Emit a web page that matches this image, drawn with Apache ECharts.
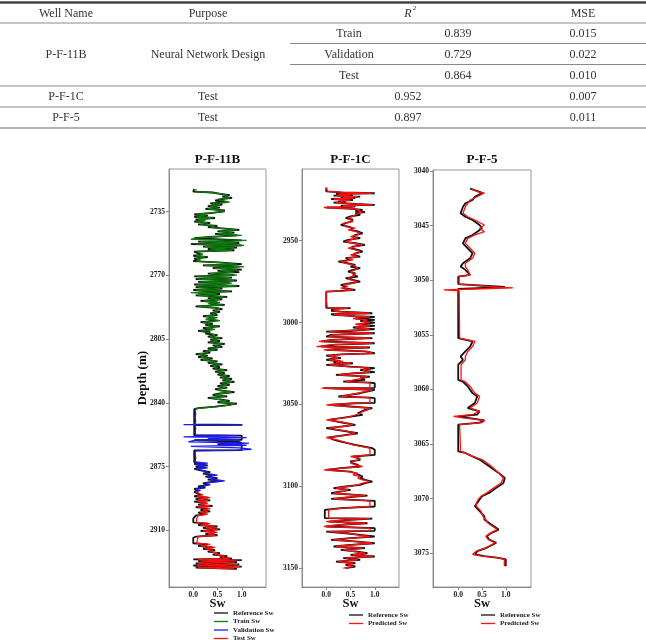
<!DOCTYPE html>
<html><head><meta charset="utf-8">
<script src="https://cdn.jsdelivr.net/npm/echarts@6/dist/echarts.min.js"></script>
<style>html,body{margin:0;padding:0;background:#fff}#c{width:646px;height:640px}</style>
</head><body><div id="c"></div>
<script>
// ---------- table data ----------
const tableHeader = ['Well Name', 'Purpose', 'R', 'MSE'];
const tableWells = ['P-F-11B', 'P-F-1C', 'P-F-5'];
const tablePurpose = ['Neural Network Design', 'Test', 'Test'];
const subsets11B = ['Train', 'Validation', 'Test'];
const r2_11B = ['0.839', '0.729', '0.864'];
const mse_11B = ['0.015', '0.022', '0.010'];
const r2_others = ['0.952', '0.897'];
const mse_others = ['0.007', '0.011'];

// ---------- chart data ----------
const wellTitles = ['P-F-11B', 'P-F-1C', 'P-F-5'];
const xTicks = [0, 0.5, 1.0];
const yTicks11B = [2735, 2770, 2805, 2840, 2875, 2910];
const yTicks1C = [2950, 3000, 3050, 3100, 3150];
const yTicks5 = [3040, 3045, 3050, 3055, 3060, 3065, 3070, 3075];
const split11B = [2843.4, 2888.8]; // train | validation | test depth boundaries

// rows: [depth (m), reference Sw, predicted Sw]
const log11B = [
[2722.6,0.02,0.06],[2723.5,0.05,0.08],[2724.0,0.0,0.05],[2724.5,0.40,0.35],[2725.2,0.55,0.6],[2726.0,0.75,0.7],[2726.8,0.60,0.65],[2727.5,0.80,0.75],[2728.3,0.55,0.5],[2729.0,0.45,0.5],[2729.8,0.70,0.75],[2730.5,0.35,0.4],[2731.2,0.60,0.55],[2732.0,0.30,0.35],[2732.8,0.55,0.5],[2733.5,0.25,0.3],[2734.3,0.65,0.6],[2735.0,0.60,0.65],[2735.8,0.35,0.3],
[2736.5,0.02,0.08],[2737.2,0.30,0.25],[2737.8,0.02,0.07],[2738.5,0.45,0.4],[2739.2,0.05,0.1],[2739.8,0.20,0.25],[2740.5,0.02,0.06],[2741.2,0.35,0.3],[2742.0,0.10,0.15],[2742.8,0.50,0.45],[2743.5,0.30,0.35],[2744.2,0.60,0.55],
[2745.0,0.95,0.9],[2745.8,0.50,0.55],[2746.5,0.85,0.8],[2747.2,0.45,0.5],[2748.0,0.90,1.0],[2748.8,0.35,0.4],[2749.5,0.02,0.07],
[2750.2,0.02,-0.05],[2750.8,1.0,1.1],[2751.5,0.10,0.15],[2752.2,0.95,0.9],[2752.8,-0.05,0.05],[2753.5,1.0,1.05],[2754.2,0.20,0.25],[2754.8,0.90,0.85],[2755.5,0.30,0.35],[2756.2,0.85,0.8],
[2757.0,0.02,0.07],[2757.8,0.0,0.05],[2758.5,0.15,0.2],[2759.2,0.0,0.06],[2760.0,0.30,0.25],[2760.8,0.02,0.07],[2761.5,0.10,0.15],[2762.2,0.0,0.06],[2763.0,0.60,0.55],
[2763.8,1.0,0.9],[2764.5,0.20,0.25],[2765.2,0.95,1.05],[2766.0,0.40,0.45],[2766.8,1.0,0.9],[2767.5,0.50,0.55],[2768.2,0.95,0.85],[2769.0,0.30,0.35],[2769.8,0.85,0.9],
[2770.5,0.02,0.07],[2771.2,0.80,0.75],[2772.0,0.05,0.1],[2772.8,0.90,0.85],[2773.5,0.10,0.15],[2774.2,0.75,0.8],[2775.0,0.02,0.07],[2775.8,0.95,0.9],[2776.5,0.05,0.1],[2777.2,0.60,0.55],[2778.0,0.0,0.06],[2778.8,0.80,0.75],[2779.5,0.10,-0.05],[2780.2,0.55,0.5],[2781.0,0.05,0.1],[2781.8,0.70,0.65],
[2782.5,0.30,0.35],[2783.2,0.60,0.55],[2784.0,0.15,0.2],[2784.8,0.50,0.55],[2785.5,0.35,0.3],[2786.2,0.65,0.6],[2787.0,0.05,0.1],[2787.8,0.45,0.5],[2788.5,0.60,0.55],[2789.2,0.40,0.45],[2790.0,0.55,0.5],[2790.8,0.35,0.4],
[2791.6,0.50,0.45],[2792.4,0.20,0.25],[2793.2,0.45,0.5],[2794.0,0.30,0.25],[2794.8,0.50,0.55],[2795.6,0.15,0.2],[2796.4,0.40,0.35],[2797.2,0.25,0.3],[2798.0,0.55,0.5],[2798.8,0.20,0.25],[2799.6,0.40,0.45],[2800.4,0.10,0.15],[2801.2,0.35,0.3],[2802.0,0.25,0.3],[2802.8,0.50,0.45],[2803.6,0.30,0.35],[2804.4,0.60,0.55],[2805.2,0.35,0.4],
[2806.0,0.55,0.5],[2806.8,0.30,0.35],[2807.6,0.65,0.6],[2808.4,0.40,0.45],[2809.2,0.60,0.55],[2810.0,0.30,0.35],[2810.8,0.50,0.45],[2811.6,0.20,0.25],[2812.4,0.35,0.3],[2813.2,0.05,0.1],[2814.0,0.30,0.25],[2814.8,0.10,0.15],[2815.6,0.40,0.35],[2816.4,0.15,0.2],[2817.2,0.50,0.45],[2818.0,0.30,0.35],[2818.8,0.60,0.55],[2819.6,0.35,0.4],[2820.4,0.55,0.5],[2821.2,0.40,0.45],
[2822.0,0.70,0.65],[2822.8,0.45,0.5],[2823.6,0.65,0.6],[2824.4,0.50,0.55],[2825.2,0.75,0.7],[2826.0,0.55,0.6],[2826.8,0.80,0.75],[2827.6,0.60,0.65],[2828.4,0.85,0.8],[2829.2,0.55,0.6],[2830.0,0.75,0.7],[2830.8,0.50,0.55],[2831.6,0.70,0.65],[2832.4,0.45,0.5],
[2833.2,0.60,0.55],[2834.0,0.85,0.8],[2834.8,0.55,0.6],[2835.6,0.40,0.45],[2836.4,0.70,0.65],[2837.2,0.30,0.35],[2838.0,0.55,0.5],[2838.8,0.75,0.7],[2839.6,0.50,0.55],[2840.4,0.90,0.85],[2841.2,0.70,0.75],[2842.0,0.45,0.5],[2842.8,0.10,0.15],[2843.4,0.02,0.04],
[2844.5,0.02,0.04],[2846.0,0.02,0.05],[2848.0,0.02,0.04],[2850.0,0.02,0.05],[2851.7,0.02,0.04],[2851.9,0.02,-0.2],[2852.0,1.0,1.02],[2852.2,0.02,0.04],[2854.0,0.02,0.05],[2856.0,0.02,0.04],[2857.7,0.02,0.05],[2857.9,1.0,0.9],[2858.6,1.0,-0.2],[2859.0,1.0,1.1],[2859.5,1.0,0.3],[2860.2,1.0,0.95],[2860.4,0.02,0.05],[2861.2,0.02,0.04],[2861.4,0.95,-0.1],[2862.0,1.0,1.15],[2862.6,0.50,0.55],[2863.2,1.0,1.1],[2863.8,1.0,-0.05],[2864.6,1.0,0.95],[2865.4,1.0,1.2],[2865.9,1.0,0.9],[2866.1,0.02,0.05],[2868.0,0.02,0.04],[2870.0,0.02,0.05],[2872.5,0.02,0.04],[2873.0,0.20,0.3],[2873.5,0.02,0.05],[2874.3,0.30,0.25],[2875.0,0.05,0.1],[2875.6,0.25,0.3],[2876.2,0.02,0.06],[2877.0,0.15,0.2],[2878.0,0.35,0.3],[2878.8,0.20,0.25],[2879.6,0.45,0.5],[2880.4,0.25,0.3],[2881.2,0.50,0.45],[2882.0,0.30,0.35],[2882.8,0.60,0.65],[2883.5,0.35,0.4],[2884.2,0.20,0.25],[2885.0,0.30,0.35],[2885.8,0.10,0.15],[2886.5,0.25,0.2],[2887.2,0.02,0.06],[2888.0,0.10,0.15],[2888.8,0.02,0.05],
[2889.5,0.02,0.08],[2890.5,0.15,0.2],[2891.2,0.02,0.08],[2892.0,0.30,0.35],[2892.8,0.05,0.1],[2893.5,0.35,0.3],[2894.2,0.02,0.08],[2895.0,0.25,0.3],[2895.8,0.10,0.15],[2896.5,0.40,0.35],[2897.2,0.05,0.1],[2898.0,0.30,0.35],[2898.8,0.15,0.2],[2899.5,0.35,0.3],[2900.2,0.10,0.15],[2901.0,0.25,0.3],[2901.8,0.05,0.1],[2902.5,0.02,0.08],[2903.5,0.0,0.07],[2905.5,0.0,0.07],[2906.2,0.30,0.35],[2907.0,0.10,0.15],[2907.8,0.50,0.45],[2908.6,0.20,0.25],[2909.4,0.55,0.5],[2910.2,0.15,0.2],[2911.0,0.45,0.5],[2911.8,0.25,0.3],[2912.6,0.50,0.45],[2913.4,0.05,0.1],[2914.0,0.0,0.07],[2917.0,0.0,0.07],[2917.6,0.30,0.35],[2918.4,0.10,0.15],[2919.2,0.40,0.45],[2920.0,0.20,0.25],[2920.8,0.45,0.4],[2921.6,0.30,0.35],[2922.4,0.55,0.5],[2923.2,0.40,0.45],[2924.0,0.70,0.65],[2924.8,0.55,0.6],[2925.4,0.80,0.75],[2925.8,0.0,0.1],[2926.2,1.0,0.9],[2926.8,0.10,0.15],[2927.4,0.90,0.85],[2928.0,0.05,0.1],[2928.6,0.95,0.9],[2929.2,0.0,0.08],[2929.8,1.0,0.95],[2930.4,0.05,0.1],[2931.0,0.90,0.85]
];

const log1C = [
[2917.6,0.0,0.0],[2920.0,0.0,0.03],[2920.6,0.3,0.35],[2921.1,1.0,0.95],[2921.5,0.2,0.25],[2922.1,0.55,0.5],[2922.6,0.15,0.2],[2923.1,0.7,0.65],[2923.6,0.3,0.35],[2924.1,0.6,0.55],[2924.6,0.1,0.15],[2925.2,0.55,0.5],[2925.8,0.25,0.3],[2926.2,0.4,0.35],[2926.8,0.15,0.2],[2927.6,0.6,0.55],[2928.2,1.0,0.95],[2928.6,0.3,0.35],[2929.2,0.6,0.55],[2929.8,0.0,-0.05],[2930.4,0.45,0.5],[2931.2,0.75,0.7],[2932.0,0.6,0.65],[2932.6,0.8,0.75],[2933.3,0.6,0.65],[2934.3,0.7,0.65],[2935.2,0.5,0.55],[2936.3,0.4,0.45],[2937.2,0.55,0.5],[2938.4,0.5,0.55],[2939.4,0.4,0.35],[2940.4,0.3,0.35],[2941.4,0.45,0.4],[2942.4,0.55,0.6],[2943.4,0.5,0.45],[2944.4,0.65,0.6],[2945.5,0.75,0.7],[2946.5,0.6,0.65],[2947.5,0.55,0.5],[2948.5,0.7,0.65],[2949.5,0.45,0.5],[2950.6,0.35,0.4],[2951.6,0.6,0.55],[2952.6,0.8,0.75],[2953.6,0.55,0.6],[2954.6,0.5,0.45],[2955.6,0.65,0.6],[2956.7,0.75,0.7],[2957.7,0.6,0.65],[2958.7,0.55,0.5],[2959.7,0.7,0.65],[2960.7,0.4,0.45],[2961.7,0.5,0.55],[2962.8,0.25,0.3],[2963.8,0.45,0.4],[2964.8,0.6,0.55],[2965.8,0.5,0.55],[2966.8,0.7,0.65],[2967.8,0.55,0.6],[2968.9,0.45,0.5],[2969.9,0.6,0.55],[2970.9,0.55,0.6],[2971.9,0.65,0.6],[2972.9,0.4,0.45],[2974.0,0.55,0.5],[2975.0,0.7,0.65],[2976.0,0.5,0.55],[2977.0,0.3,0.35],[2978.0,0.4,0.45],[2979.0,0.35,0.3],[2980.0,0.6,0.55],[2980.6,0.3,0.35],[2981.1,0.0,0.0],[2986.0,0.0,0.0],[2991.0,0.0,0.02],[2991.2,0.5,0.45],[2991.8,0.1,0.15],[2992.4,0.2,0.25],[2992.8,0.1,0.15],[2993.3,0.3,0.25],[2994.3,0.95,0.9],[2994.8,0.1,0.15],[2995.3,0.15,0.2],[2996.0,0.6,0.55],[2996.5,1.0,0.9],[2997.5,0.6,0.55],[2998.3,1.0,0.85],[2999.0,0.7,0.75],[3000.0,1.0,0.9],[3001.0,0.65,0.6],[3002.0,1.0,0.9],[3003.0,0.55,0.6],[3004.0,1.0,0.9],[3004.4,0.8,0.75],[3005.5,0.0,0.05],[3006.5,1.0,0.95],[3007.5,0.1,0.15],[3008.5,0.0,0.05],[3009.5,0.95,0.9],[3010.5,0.1,0.15],[3011.5,-0.1,-0.15],[3012.6,1.0,0.95],[3013.5,0.2,0.1],[3014.6,-0.1,-0.2],[3015.2,0.9,0.85],[3015.9,0.3,0.25],[3016.6,0.0,-0.05],[3017.6,0.8,0.85],[3018.7,1.0,0.95],[3019.4,0.3,0.35],[3020.1,0.0,0.05],[3021.7,0.3,0.25],[3022.2,0.1,0.15],[3022.7,0.0,0.05],[3023.7,0.3,0.35],[3024.3,0.15,0.2],[3024.8,0.55,0.5],[3025.8,0.0,0.05],[3026.8,0.5,0.45],[3027.8,1.0,0.9],[3029.0,0.7,0.75],[3030.2,1.0,0.9],[3030.9,0.6,0.55],[3031.9,0.2,0.25],[3033.0,0.9,0.85],[3033.9,0.7,0.75],
[3035.0,0.8,0.75],[3036.0,0.35,0.4],[3036.6,0.9,0.85],[3037.0,1.0,0.9],[3039.8,1.0,0.9],[3040.0,-0.05,-0.1],[3040.6,0.5,0.45],[3041.0,1.0,0.95],[3043.1,0.7,0.65],[3045.1,0.25,0.3],[3045.8,0.9,0.85],[3046.1,1.0,0.9],[3049.0,1.0,0.9],[3049.2,0.6,0.55],[3050.2,0.05,0.0],[3051.2,0.5,0.45],[3052.2,0.95,0.9],[3053.2,0.8,0.85],[3054.3,0.8,0.75],[3055.3,0.65,0.7],[3056.3,0.75,0.7],[3057.8,0.4,0.45],[3059.3,0.05,0.0],[3060.8,0.3,0.35],[3062.4,0.6,0.55],[3063.4,0.3,0.35],[3064.4,0.0,0.05],[3066.0,0.35,0.4],[3067.5,0.65,0.6],[3068.8,0.35,0.4],[3070.1,0.05,0.0],[3071.4,0.15,0.2],[3072.6,0.3,0.35],[3074.6,0.6,0.55],[3076.6,0.95,0.9],[3077.6,1.0,0.9],[3080.7,1.0,0.9],[3081.7,0.55,0.5],[3082.7,0.65,0.7],[3083.7,0.7,0.65],[3084.7,0.5,0.55],[3085.8,0.55,0.5],[3086.8,0.65,0.6],[3087.8,0.7,0.75],[3088.8,0.3,0.35],[3089.8,0.0,-0.05],[3090.9,0.5,0.45],[3091.9,0.6,0.65],[3092.9,0.6,0.55],[3093.9,0.75,0.7],[3094.9,0.7,0.65],[3096.0,0.8,0.75],[3097.0,0.95,0.9],[3098.0,0.8,0.75],[3099.0,0.7,0.65],[3100.0,0.4,0.45],[3101.0,0.15,0.2],[3102.0,0.5,0.45],[3103.0,0.3,0.35],[3104.1,0.1,0.15],[3105.5,0.85,0.8],[3106.5,0.5,0.45],[3107.5,0.1,0.15],[3108.7,1.0,0.9],[3112.2,1.0,0.9],[3113.2,0.3,0.35],[3114.2,-0.03,0.05],[3119.3,-0.03,0.05],[3119.6,0.95,0.9],[3120.5,0.4,0.35],[3121.4,0.05,0.0],[3122.4,0.85,0.8],[3123.4,0.3,0.25],[3124.4,0.0,-0.05],[3125.4,1.0,0.9],[3127.0,1.0,0.9],[3127.5,0.0,0.05],[3128.5,0.4,0.45],[3129.5,0.7,0.65],[3130.5,1.0,0.9],[3131.5,0.5,0.55],[3132.5,0.1,0.15],[3133.5,0.6,0.55],[3134.6,1.0,0.95],[3135.6,0.5,0.55],[3136.6,0.15,0.2],[3137.6,0.8,0.75],[3138.6,0.3,0.35],[3139.6,0.6,0.55],[3140.7,0.85,0.8],[3141.7,0.5,0.55],[3142.7,1.0,0.95],[3143.7,0.35,0.4],[3144.7,0.7,0.65],[3145.8,0.2,0.25],[3146.8,0.6,0.55],[3147.8,0.4,0.45],[3148.8,0.6,0.55],[3149.8,0.4,0.35]
];

const log5 = [
[3041.6,0.25,0.28],[3041.9,0.45,0.42],[3042.0,0.5,0.55],[3042.35,0.35,0.4],[3042.65,0.3,0.25],[3042.96,0.15,0.2],[3043.26,0.1,0.15],[3043.87,0.05,0.1],[3044.18,0.15,0.2],[3044.48,0.3,0.35],[3044.94,0.45,0.55],[3045.24,0.5,0.45],[3045.55,0.4,0.55],[3045.85,0.3,0.35],[3046.16,0.15,0.2],[3046.62,0.1,0.15],[3047.07,0.2,0.25],[3047.53,0.3,0.35],[3047.99,0.25,0.3],[3048.45,0.1,0.15],[3048.75,0.05,0.15],[3049.05,0.15,0.2],[3049.51,0.25,0.25],[3049.66,0.0,0.02],
[3050.35,0.0,0.02],[3050.62,0.98,0.8],[3050.70,0.55,1.15],[3050.80,0.0,0.34],[3050.88,0.0,-0.3],[3050.98,0.0,0.02],
[3055.3,0.0,0.03],[3055.61,0.3,0.35],[3056.07,0.25,0.3],[3056.52,0.15,0.2],[3056.98,0.05,0.15],[3057.29,0.1,0.15],[3057.74,0.0,0.06],[3059.12,0.0,0.06],[3059.3,0.1,0.15],[3059.73,0.2,0.25],[3060.34,0.3,0.35],[3060.64,0.4,0.45],[3061.25,0.35,0.4],[3061.71,0.2,0.25],[3062.01,0.45,0.45],[3062.3,0.4,0.3],[3062.47,0.0,-0.1],[3062.6,0.0,0.1],[3062.84,0.55,0.55],[3063.05,0.45,0.5],[3063.23,0.0,0.03],[3065.67,0.0,0.05],[3065.82,0.15,0.15],[3066.13,0.3,0.3],[3066.43,0.45,0.5],[3067.04,0.65,0.7],[3067.65,0.85,0.85],[3068.11,0.98,0.95],[3068.57,0.95,0.9],[3069.02,0.8,0.75],[3069.48,0.65,0.6],[3069.79,0.5,0.48],[3070.09,0.45,0.42],[3070.4,0.4,0.38],[3070.7,0.35,0.38],[3071.16,0.45,0.48],[3071.62,0.55,0.52],[3071.92,0.55,0.58],[3072.23,0.65,0.62],[3072.53,0.75,0.72],[3072.84,0.85,0.82],[3073.14,0.7,0.68],[3073.45,0.6,0.58],[3073.75,0.65,0.63],[3074.05,0.8,0.78],[3074.51,0.6,0.58],[3074.82,0.4,0.38],[3075.12,0.35,0.3],[3075.27,0.55,0.5],[3075.43,0.85,0.85],[3075.58,1.0,0.97],[3076.19,1.0,0.97]
];

// ---------- build ----------
const SERIF = 'Liberation Serif';
const grids = [
  {left: 169, top: 169, width: 97, height: 418},
  {left: 302, top: 169, width: 97, height: 418},
  {left: 433, top: 170, width: 98, height: 417}
];
const yRanges = [[2711.6, 2941], [2906.3, 3161.3], [3039.9, 3078.1]];
const xRanges = [[-0.5, 1.5], [-0.5, 1.5], [-0.53, 1.53]];
const yTickSets = [yTicks11B, yTicks1C, yTicks5];
const labelStyle = {fontFamily: SERIF, fontWeight: 'bold', fontSize: 7.5, color: '#222'};

const xAxes = grids.map((g, i) => ({
  type: 'value', gridIndex: i, min: xRanges[i][0], max: xRanges[i][1],
  axisLine: {show: true, onZero: false, lineStyle: {color: '#888'}},
  axisTick: {show: true, length: 3, customValues: xTicks, lineStyle: {color: '#888'}},
  axisLabel: Object.assign({customValues: xTicks, margin: 4, formatter: v => Number(v).toFixed(1)}, labelStyle),
  splitLine: {show: false},
  name: 'Sw', nameLocation: 'middle', nameGap: 10.5, nameMoveOverlap: false,
  nameTextStyle: {fontFamily: SERIF, fontWeight: 'bold', fontSize: 12.5, color: '#111'}
}));
const yAxes = grids.map((g, i) => ({
  type: 'value', gridIndex: i, inverse: true, min: yRanges[i][0], max: yRanges[i][1],
  axisLine: {show: true, onZero: false, lineStyle: {color: '#888'}},
  axisTick: {show: true, length: 3, customValues: yTickSets[i], lineStyle: {color: '#888'}},
  axisLabel: Object.assign({customValues: yTickSets[i], margin: 4, formatter: v => String(Math.round(v))}, labelStyle),
  splitLine: {show: false},
  name: i === 0 ? 'Depth (m)' : '', nameLocation: 'middle', nameGap: 20, nameMoveOverlap: false,
  nameTextStyle: {fontFamily: SERIF, fontWeight: 'bold', fontSize: 12.5, color: '#111'}
}));

function pts(rows, col, lo, hi) {
  return rows.filter(r => r[0] >= lo && r[0] <= hi).map(r => [r[col], r[0]]);
}
const line = (name, data, xi, color, w, z) => ({
  type: 'line', name, data, xAxisIndex: xi, yAxisIndex: xi, symbol: 'none', showSymbol: false,
  lineStyle: {color, width: w}, itemStyle: {color}, z, animation: false, silent: true
});
const BLACK = '#111', GREEN = '#0a7d0a', BLUE = '#1c1cf0', RED = '#ff1010';
const series = [
  line('Reference Sw', pts(log11B, 1, -1e9, 1e9), 0, BLACK, 1.8, 2),
  line('Train Sw', pts(log11B, 2, -1e9, split11B[0]), 0, GREEN, 1.3, 3),
  line('Validation Sw', pts(log11B, 2, split11B[0], split11B[1]), 0, BLUE, 1.3, 3),
  line('Test Sw', pts(log11B, 2, split11B[1], 1e9), 0, RED, 1.3, 3),
  line('Reference Sw', pts(log1C, 1, -1e9, 1e9), 1, BLACK, 1.8, 2),
  line('Predicted Sw', pts(log1C, 2, -1e9, 1e9), 1, RED, 1.3, 3),
  line('Reference Sw', pts(log5, 1, -1e9, 1e9), 2, BLACK, 1.8, 2),
  line('Predicted Sw', pts(log5, 2, -1e9, 1e9), 2, RED, 1.3, 3)
];

const legendText = {fontFamily: SERIF, fontWeight: 'bold', fontSize: 7, color: '#222', lineHeight: 8};
const legends = [
  {left: 214, top: 609, data: ['Reference Sw', 'Train Sw', 'Validation Sw', 'Test Sw']},
  {left: 349, top: 611, data: ['Reference Sw', 'Predicted Sw']},
  {left: 481, top: 611, data: ['Reference Sw', 'Predicted Sw']}
].map(l => Object.assign({orient: 'vertical', icon: 'rect', itemWidth: 14, itemHeight: 1.3, itemGap: 0.5,
  height: 60, textStyle: legendText, selectedMode: false, padding: 0}, l));

// ---------- table graphics ----------
const G = [];
const T = (text, x, y, size, extra) => G.push(Object.assign({type: 'text', x, y, silent: true,
  style: Object.assign({text, fill: '#333', font: (size || 12) + 'px ' + SERIF, align: 'center', verticalAlign: 'middle'}, extra || {})}));
const L = (x1, y, x2, w, c) => G.push({type: 'line', silent: true, shape: {x1, y1: y, x2, y2: y}, style: {stroke: c || '#8a8a8a', lineWidth: w || 1}});
L(0, 2.5, 646, 2.5, '#444');
L(0, 23, 646, 1);
L(290, 43.5, 646, 1);
L(290, 64.5, 646, 1);
L(0, 86, 646, 1);
L(0, 107, 646, 1);
L(0, 128, 646, 1.2, '#666');
const hdrX = [66, 208, 408, 583];
T(tableHeader[0], hdrX[0], 13.5);
T(tableHeader[1], hdrX[1], 13.5);
T(tableHeader[2], hdrX[2], 14, 12, {font: 'italic 12px ' + SERIF});
T('2', hdrX[2] + 6.5, 8.5, 7);
T(tableHeader[3], hdrX[3], 13.5);
T(tableWells[0], 66, 54.5);
T(tablePurpose[0], 208, 54.5);
const subY = [33.5, 54.5, 75.5];
subsets11B.forEach((s, i) => { T(s, 349, subY[i]); T(r2_11B[i], 458, subY[i]); T(mse_11B[i], 583, subY[i]); });
const othY = [97, 118];
[1, 2].forEach((w, k) => {
  T(tableWells[w], 66, othY[k]); T(tablePurpose[w], 208, othY[k]);
  T(r2_others[k], 408, othY[k]); T(mse_others[k], 583, othY[k]);
});
// well titles
const titleX = grids.map(g => g.left + g.width / 2);
wellTitles.forEach((t, i) => G.push({type: 'text', x: titleX[i], y: 160, silent: true,
  style: {text: t, fill: '#111', font: 'bold 13px ' + SERIF, align: 'center', verticalAlign: 'middle'}}));

const chart = echarts.init(document.getElementById('c'), null, {renderer: 'canvas'});
chart.setOption({
  animation: false,
  backgroundColor: '#fff',
  grid: grids.map(g => Object.assign({show: true, borderColor: '#999', borderWidth: 1, backgroundColor: 'transparent'}, g)),
  xAxis: xAxes,
  yAxis: yAxes,
  legend: legends,
  series,
  graphic: G
});
</script></body></html>
